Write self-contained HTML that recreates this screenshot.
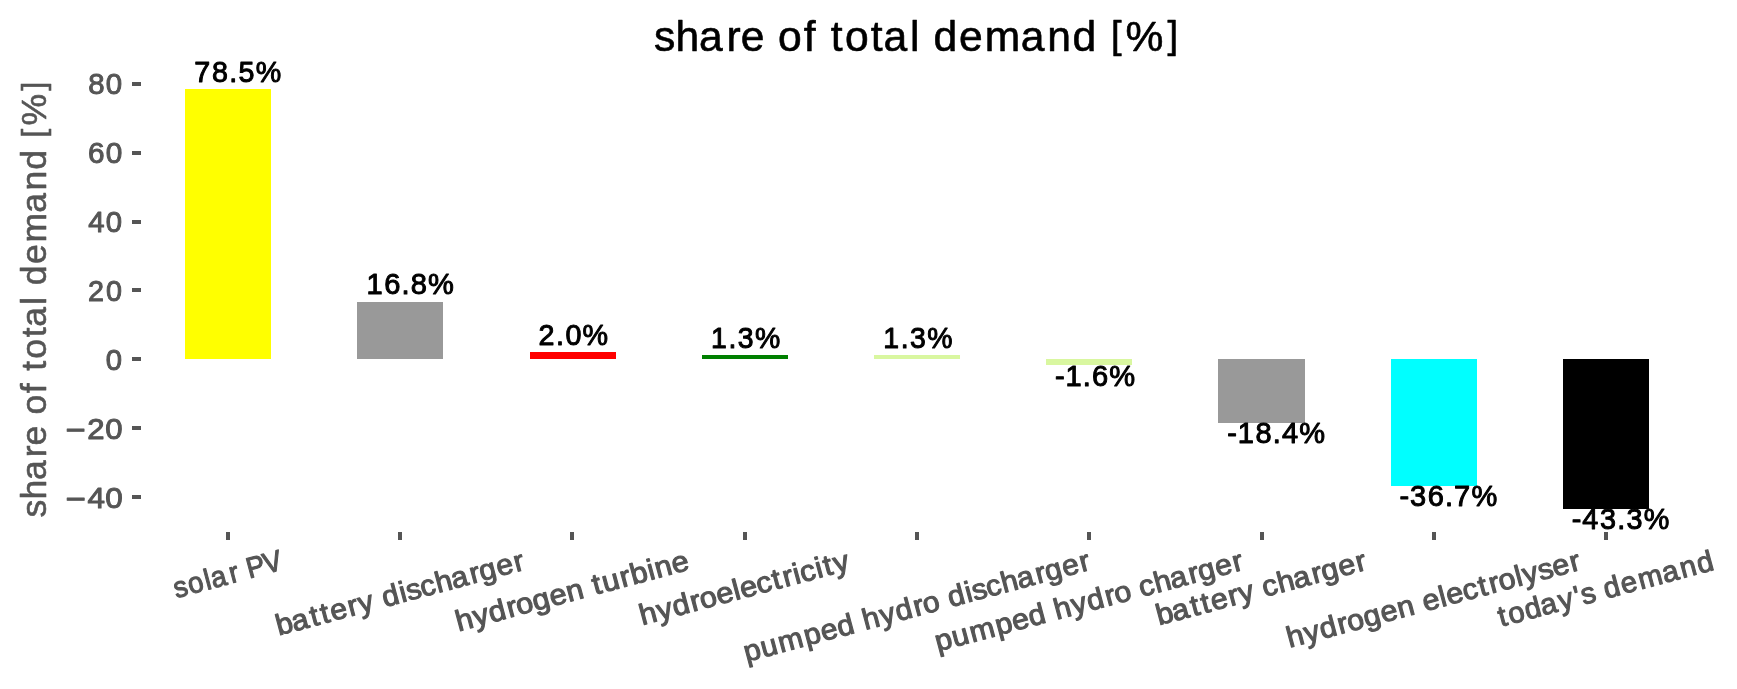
<!DOCTYPE html>
<html><head><meta charset="utf-8"><title>share of total demand [%]</title>
<style>html,body{margin:0;padding:0;background:#fff;width:1737px;height:689px;overflow:hidden}svg{display:block;will-change:transform}text{font-family:"Liberation Sans",sans-serif;white-space:pre;stroke-linejoin:round}</style></head><body>
<svg width="1737" height="689" viewBox="0 0 1737 689">
<rect x="0" y="0" width="1737" height="689" fill="#ffffff"/>
<g id="bars">
<rect x="185" y="89" width="86" height="270" fill="#ffff00"/>
<rect x="357" y="302" width="86" height="57" fill="#999999"/>
<rect x="530" y="352" width="86" height="7" fill="#ff0000"/>
<rect x="702" y="355" width="86" height="4" fill="#008000"/>
<rect x="874" y="355" width="86" height="4" fill="#d9f7a0"/>
<rect x="1046" y="359" width="86" height="6" fill="#d9f7a0"/>
<rect x="1218" y="359" width="87" height="64" fill="#999999"/>
<rect x="1391" y="359" width="86" height="127" fill="#00ffff"/>
<rect x="1563" y="359" width="86" height="150" fill="#000000"/>
</g><g id="ticks" fill="#555555">
<rect x="226" y="532" width="4" height="8"/>
<rect x="398" y="532" width="4" height="8"/>
<rect x="570" y="532" width="4" height="8"/>
<rect x="743" y="532" width="4" height="8"/>
<rect x="915" y="532" width="4" height="8"/>
<rect x="1087" y="532" width="4" height="8"/>
<rect x="1260" y="532" width="4" height="8"/>
<rect x="1432" y="532" width="4" height="8"/>
<rect x="1604" y="532" width="4" height="8"/>
<rect x="132" y="495" width="9" height="4"/>
<rect x="132" y="426" width="9" height="4"/>
<rect x="132" y="357" width="9" height="4"/>
<rect x="132" y="288" width="9" height="4"/>
<rect x="132" y="220" width="9" height="4"/>
<rect x="132" y="151" width="9" height="4"/>
<rect x="132" y="82" width="9" height="4"/>
</g>
<text transform="translate(175.82 598.28) rotate(-15) scale(0.9448 1)" x="0.57 16.20 34.13 41.25 61.21 71.50 80.48 98.87" y="0" font-size="29.17" fill="#555555" stroke="#555555" stroke-width="1.1">solar PV</text>
<text transform="translate(278.12 635.76) rotate(-15) scale(1.0306 1)" x="0.59 16.20 34.76 45.31 54.95 72.44 83.00 98.27 107.12 124.44 131.33 145.24 160.65 176.41 194.97 204.67 221.72 239.21" y="0" font-size="29.17" fill="#555555" stroke="#555555" stroke-width="1.1">battery discharger</text>
<text transform="translate(458.30 631.51) rotate(-15) scale(1.0551 1)" x="0.21 17.14 32.33 49.94 59.11 75.34 91.98 108.38 124.79 134.19 143.64 161.14 171.33 188.07 195.20 211.66" y="0" font-size="29.17" fill="#555555" stroke="#555555" stroke-width="1.1">hydrogen turbine</text>
<text transform="translate(641.94 625.40) rotate(-15) scale(1.0530 1)" x="0.23 17.19 32.41 50.05 59.24 75.46 92.04 98.99 114.80 130.68 140.99 151.24 157.78 173.05 180.99 190.75" y="0" font-size="29.17" fill="#555555" stroke="#555555" stroke-width="1.1">hydroelectricity</text>
<text transform="translate(745.80 662.05) rotate(-15) scale(1.0313 1)" x="0.59 17.45 35.18 60.94 77.66 94.26 111.06 120.02 137.32 152.87 170.84 180.28 196.59 205.43 222.74 229.63 243.53 258.92 274.68 293.23 302.92 319.96 337.44" y="0" font-size="29.17" fill="#555555" stroke="#555555" stroke-width="1.1">pumped hydro discharger</text>
<text transform="translate(937.28 651.75) rotate(-15) scale(1.0387 1)" x="0.53 17.27 34.84 60.44 77.05 93.54 110.27 119.11 136.29 151.73 169.59 178.94 195.20 203.44 218.72 234.36 252.80 262.41 279.32 296.70" y="0" font-size="29.17" fill="#555555" stroke="#555555" stroke-width="1.1">pumped hydro charger</text>
<text transform="translate(1158.58 625.46) rotate(-15) scale(1.0411 1)" x="0.50 15.95 34.37 44.82 54.31 71.66 82.09 97.29 105.50 120.74 136.35 154.75 164.33 181.20 198.55" y="0" font-size="29.17" fill="#555555" stroke="#555555" stroke-width="1.1">battery charger</text>
<text transform="translate(1289.08 647.83) rotate(-15) scale(1.0415 1)" x="0.32 17.46 32.86 50.67 59.99 76.43 93.29 109.90 126.42 135.04 151.76 158.84 174.81 190.84 201.28 210.59 227.31 234.81 249.86 264.04 281.38" y="0" font-size="29.17" fill="#555555" stroke="#555555" stroke-width="1.1">hydrogen electrolyser</text>
<text transform="translate(1499.80 627.21) rotate(-15) scale(1.0034 1)" x="1.31 11.22 28.27 44.64 63.14 79.69 86.35 100.64 109.94 127.45 145.41 170.27 188.58 205.92" y="0" font-size="29.17" fill="#555555" stroke="#555555" stroke-width="1.1">today's demand</text>
<text transform="translate(64.22 507.89) scale(1.0779 1)" font-size="29.17" fill="#555555" stroke="#555555" stroke-width="1"><tspan x="1.35" y="2.04" font-size="32.30">−</tspan><tspan x="21.65 38.06" y="0.00">40</tspan></text>
<text transform="translate(64.22 438.97) scale(1.0675 1)" font-size="29.17" fill="#555555" stroke="#555555" stroke-width="1"><tspan x="1.46" y="2.04" font-size="32.30">−</tspan><tspan x="21.60 38.51" y="0.00">20</tspan></text>
<text transform="translate(105.09 370.05) scale(1.0022 1)" x="0.73" y="0" font-size="29.17" fill="#555555" stroke="#555555" stroke-width="1">0</text>
<text transform="translate(87.47 301.14) scale(0.9846 1)" x="0.49 18.82" y="0" font-size="29.17" fill="#555555" stroke="#555555" stroke-width="1">20</text>
<text transform="translate(87.47 232.22) scale(1.0041 1)" x="0.67 18.30" y="0" font-size="29.17" fill="#555555" stroke="#555555" stroke-width="1">40</text>
<text transform="translate(87.47 163.31) scale(1.0199 1)" x="0.57 17.89" y="0" font-size="29.17" fill="#555555" stroke="#555555" stroke-width="1">60</text>
<text transform="translate(87.47 94.39) scale(1.0076 1)" x="0.66 18.20" y="0" font-size="29.17" fill="#555555" stroke="#555555" stroke-width="1">80</text>
<text transform="translate(46.18 517.56) rotate(-90) scale(1.0150 1)" font-size="35.00" fill="#555555" stroke="#555555" stroke-width="0.6"><tspan x="0.04 17.72 36.91 59.43 71.07 90.78 101.53 122.59 132.77 144.68 156.36 177.57 187.99 209.68 218.09 228.99 249.74 270.96 300.44 322.14 342.68 362.99" y="0.00">share of total demand </tspan><tspan x="374.20" y="-2.25" font-size="31.85">[</tspan><tspan x="386.23" y="0.00">%</tspan><tspan x="420.48" y="-2.25" font-size="31.85">]</tspan></text>
<text transform="translate(193.57 81.61) scale(0.9819 1)" x="0.79 18.87 36.38 45.72 63.41" y="0" font-size="29.17" fill="#000000" stroke="#000000" stroke-width="1">78.5%</text>
<text transform="translate(365.82 294.22) scale(0.9963 1)" x="0.60 18.50 35.80 45.05 62.30" y="0" font-size="29.17" fill="#000000" stroke="#000000" stroke-width="1">16.8%</text>
<text transform="translate(538.06 345.22) scale(0.9842 1)" x="0.49 18.35 27.79 45.29" y="0" font-size="29.17" fill="#000000" stroke="#000000" stroke-width="1">2.0%</text>
<text transform="translate(710.31 347.63) scale(0.9734 1)" x="0.82 18.60 28.22 45.94" y="0" font-size="29.17" fill="#000000" stroke="#000000" stroke-width="1">1.3%</text>
<text transform="translate(882.55 347.63) scale(0.9734 1)" x="0.82 18.60 28.22 45.94" y="0" font-size="29.17" fill="#000000" stroke="#000000" stroke-width="1">1.3%</text>
<text transform="translate(1054.80 385.53) scale(0.9966 1)" x="0.16 10.65 28.12 37.39 54.62" y="0" font-size="29.17" fill="#000000" stroke="#000000" stroke-width="1">-1.6%</text>
<text transform="translate(1227.04 443.42) scale(0.9939 1)" x="0.17 10.70 28.62 45.97 55.24 72.56" y="0" font-size="29.17" fill="#000000" stroke="#000000" stroke-width="1">-18.4%</text>
<text transform="translate(1399.28 506.48) scale(0.9941 1)" x="0.17 10.90 28.63 45.96 55.15 72.54" y="0" font-size="29.17" fill="#000000" stroke="#000000" stroke-width="1">-36.7%</text>
<text transform="translate(1571.53 529.22) scale(0.9859 1)" x="0.21 10.99 28.97 46.38 55.82 73.26" y="0" font-size="29.17" fill="#000000" stroke="#000000" stroke-width="1">-43.3%</text>
<text transform="translate(653.94 51.03) scale(0.9961 1)" font-size="42.80" fill="#000000" stroke="#000000" stroke-width="0.6"><tspan x="0.05 21.72 45.25 72.85 87.16 111.32 124.49 150.31 162.79 177.39 191.71 217.71 230.50 257.07 267.39 280.75 306.18 332.19 368.34 394.95 420.13 445.02" y="0.00">share of total demand </tspan><tspan x="458.89" y="-2.69" font-size="38.21">[</tspan><tspan x="473.52" y="0.00">%</tspan><tspan x="515.57" y="-2.69" font-size="38.21">]</tspan></text>
</svg>
</body></html>
